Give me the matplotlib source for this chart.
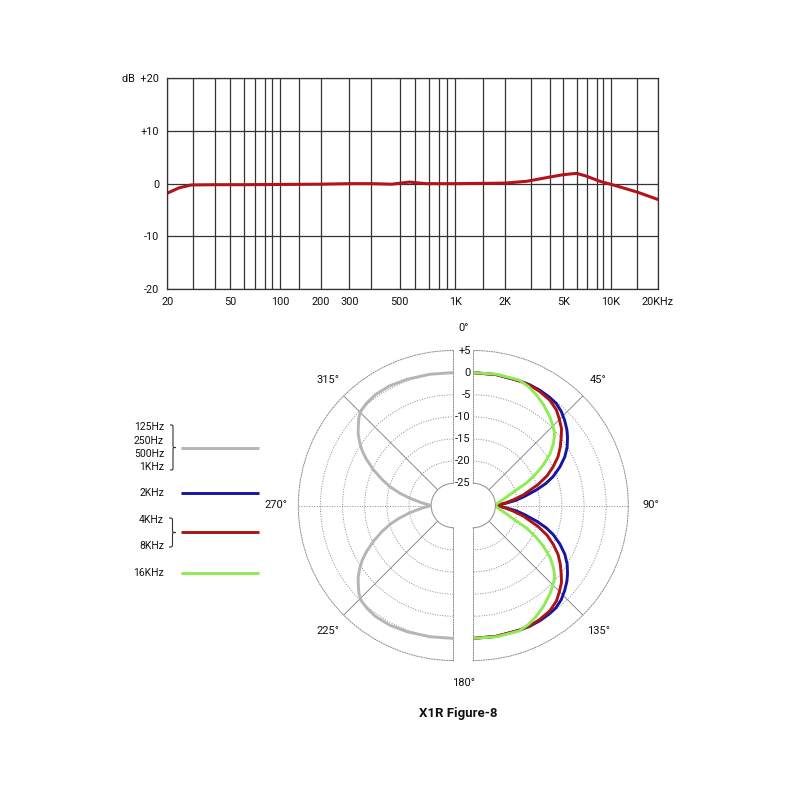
import numpy as np
import matplotlib
matplotlib.use("Agg")
import matplotlib.pyplot as plt
import matplotlib.transforms as mtransforms
from matplotlib.path import Path
from matplotlib.patches import PathPatch
from matplotlib.ticker import NullLocator

plt.rcParams['font.family'] = ['Roboto', 'DejaVu Sans']

# ------------------------------------------------------------------ data
# frequency response
FREQ_HZ = [20, 24, 29, 40, 60, 100, 200, 300, 400, 470, 560, 680, 1000,
           2000, 2800, 4000, 5000, 6000, 7000, 8500, 10500, 15000, 20000]
RESPONSE_DB = [-1.8, -0.8, -0.25, -0.2, -0.2, -0.15, -0.1, 0.0, 0.0, -0.1, 0.3,
               0.0, 0.0, 0.1, 0.45, 1.25, 1.7, 1.95, 1.4, 0.45, -0.3, -1.6, -3.0]

GRID_FREQS = [20, 30, 40, 50, 60, 70, 80, 90, 100, 150, 200, 300, 400, 500, 600,
              700, 800, 900, 1000, 1500, 2000, 3000, 4000, 5000, 6000, 7000,
              8000, 9000, 10000, 15000, 20000]
FREQ_TICKS = [20, 50, 100, 200, 300, 500, 1000, 2000, 5000, 10000, 20000]
FREQ_TICK_LABELS = ['20', '50', '100', '200', '300', '500', '1K', '2K', '5K',
                    '10K', '20KHz']
DB_TICKS = [-20, -10, 0, 10, 20]
DB_TICK_LABELS = ['-20', '-10', '0', '+10', 'dB  +20']

# calibration of the original's hand-drawn log axis (relative positions of grid lines)
AXIS_CAL = [167.3, 193.3, 214.7, 230.3, 244, 255, 264.7, 272.3, 280.3, 298.7,
            320.7, 349.3, 371.3, 399.7, 415.3, 428.7, 438.7, 446.7, 455.3,
            482.7, 505, 531.3, 549.7, 563.3, 576.7, 586.7, 596.7, 602.7, 611,
            637.3, 658]

# polar pattern (angles in degrees, clockwise from 0 deg at top; level in dB)
GRAY_ANG = [180, 190, 200, 208, 215, 220, 224, 227, 230, 233, 236, 239, 242, 246,
            250, 253.5, 257, 260.6, 265, 270,
            275, 279.4, 283, 286.5, 290, 294, 298, 301, 304, 307, 310, 313, 316,
            320, 325, 332, 340, 350, 360]
GRAY_DB = [0.0, 0.1, 0.35, 0.6, 0.6, 0.3, -0.1, -0.85, -2.0, -3.1, -4.5, -6.0,
           -7.8, -10.3, -12.9, -15.1, -17.6, -20.1, -22.8, -25.0,
           -22.8, -20.1, -17.6, -15.1, -12.9, -10.3, -7.8, -6.0, -4.5, -3.1,
           -2.0, -0.85, -0.1, 0.3, 0.6, 0.6, 0.35, 0.1, 0.0]

BLUE_ANG = [0, 10, 20, 25, 30, 35, 39, 43, 47, 51, 54, 58, 62, 66, 70, 73, 76,
            80, 83, 86, 90,
            94, 97, 100, 104, 107, 110, 114, 118, 122, 126, 129, 133, 137,
            141, 145, 150, 155, 160, 170, 180]
BLUE_DB = [0.0, 0.0, 0.0, 0.1, 0.05, -0.1, -0.3, -0.9, -1.8, -2.8, -3.7, -5.0,
           -6.6, -8.6, -10.8, -12.8, -15.2, -18.3, -20.3, -22.6, -25.0,
           -22.6, -20.3, -18.3, -15.2, -12.8, -10.8, -8.6, -6.6, -5.0, -3.7,
           -2.8, -1.8, -0.9, -0.3, -0.1, 0.05, 0.1, 0.0, 0.0, 0.0]

RED_ANG = [0, 10, 20, 25, 30, 36, 41, 45, 49, 52, 56, 60, 64, 68, 72, 75, 78,
           82, 86, 90,
           94, 98, 102, 105, 108, 112, 116, 120, 124, 128, 131, 135, 139, 144,
           150, 155, 160, 170, 180]
RED_DB = [0.0, 0.0, 0.0, 0.0, -0.2, -0.6, -1.4, -2.5, -3.6, -4.8, -6.3, -7.9,
          -9.9, -12.0, -14.6, -16.8, -18.4, -20.9, -23.0, -25.0,
          -23.0, -20.9, -18.4, -16.8, -14.6, -12.0, -9.9, -7.9, -6.3, -4.8,
          -3.6, -2.5, -1.4, -0.6, -0.2, 0.0, 0.0, 0.0, 0.0]

GREEN_ANG = [0, 10, 20, 25, 30, 35, 41, 45, 48.5, 52, 56, 60, 63, 67, 70, 75,
             80, 85, 90,
             95, 100, 105, 110, 113, 117, 120, 124, 128, 131.5, 135, 139, 145,
             150, 155, 160, 170, 180]
GREEN_DB = [0.0, 0.1, 0.15, -0.4, -1.3, -2.3, -3.6, -4.6, -5.45, -7.0, -9.1,
            -11.8, -14.0, -16.9, -19.6, -22.0, -23.5, -24.6, -25.0,
            -24.6, -23.5, -22.0, -19.6, -16.9, -14.0, -11.8, -9.1, -7.0, -5.45,
            -4.6, -3.6, -2.3, -1.3, -0.4, 0.15, 0.1, 0.0]

RING_LEVELS = [-25, -20, -15, -10, -5, 0, 5]
RING_LABELS = ['-25', '-20', '-15', '-10', '-5', '0', '+5']
GRID_ANGLES_RIGHT = [45, 90, 135]
GRID_ANGLES_LEFT = [225, 270, 315]
ANGLE_LABELS_RIGHT = {45: '45°', 90: '90°', 135: '135°'}
ANGLE_LABELS_LEFT = {225: '225°', 270: '270°', 315: '315°'}

LEGEND_GROUPS = [['125Hz', '250Hz', '500Hz', '1KHz'], ['2KHz'],
                 ['4KHz', '8KHz'], ['16KHz']]
TITLE = 'X1R Figure-8'

# ------------------------------------------------------------------ styles
C_RESP = '#b3141c'
C_GRAY = '#b5b5b5'
C_BLUE = '#1515a3'
C_RED = '#ad1515'
C_GREEN = '#8eea55'
C_GRID = '#333333'
C_PGRID = '#8a8a8a'
TXT = '#111111'
LW_CURVE = 2.1

W, H = 800, 800
fig = plt.figure(figsize=(8, 8), dpi=100)
fig.patch.set_facecolor('white')


def frac_rect(x0, y0, x1, y1):
    return [x0 / W, (H - y1) / H, (x1 - x0) / W, (y1 - y0) / H]


# ------------------------------------------------------------------ legend layer
ax_leg = fig.add_axes([0, 0, 1, 1])
ax_leg.set_xlim(0, W)
ax_leg.set_ylim(H, 0)
ax_leg.axis('off')


def brace(ax, x, y0, y1, w):
    ym = (y0 + y1) / 2.0
    r = w * 0.5
    xm = x + w * 0.5
    verts = [(x, y0), (xm, y0), (xm, y0), (xm, y0 + r),
             (xm, ym - r),
             (xm, ym), (xm, ym), (x + w, ym),
             (xm, ym), (xm, ym), (xm, ym + r),
             (xm, y1 - r),
             (xm, y1), (xm, y1), (x, y1)]
    codes = [Path.MOVETO, Path.CURVE4, Path.CURVE4, Path.CURVE4,
             Path.LINETO,
             Path.CURVE4, Path.CURVE4, Path.CURVE4,
             Path.CURVE4, Path.CURVE4, Path.CURVE4,
             Path.LINETO,
             Path.CURVE4, Path.CURVE4, Path.CURVE4]
    ax.add_patch(PathPatch(Path(verts, codes), fill=False, lw=0.8,
                           edgecolor='#333333', transform=ax.transData))


leg_colors = [C_GRAY, C_BLUE, C_RED, C_GREEN]
leg_line_y = [448, 493, 532, 573]
leg_label_y = [[427, 441, 454, 467], [493], [520, 546], [573]]
for labels, ys, ly, col in zip(LEGEND_GROUPS, leg_label_y, leg_line_y, leg_colors):
    for lab, yy in zip(labels, ys):
        ax_leg.text(164, yy, lab, ha='right', va='center', fontsize=7.5, color=TXT)
    ax_leg.plot([181, 259], [ly, ly], color=col, lw=LW_CURVE, solid_capstyle='butt')
brace(ax_leg, 170, 425, 470, 6)
brace(ax_leg, 169, 518, 547, 7)

ax_leg.text(458, 713.5, TITLE, ha='center', va='center', fontsize=9.5,
            fontweight='bold', color=TXT)

# ------------------------------------------------------------------ frequency response
log_grid = np.log10(GRID_FREQS)


def fwd(f):
    f = np.clip(np.asarray(f, dtype=float), 1e-6, None)
    return np.interp(np.log10(f), log_grid, AXIS_CAL)


def inv(p):
    return 10 ** np.interp(np.asarray(p, dtype=float), AXIS_CAL, log_grid)


ax = fig.add_axes(frac_rect(167.3, 78, 658, 289.3))
ax.set_xscale('function', functions=(fwd, inv))
ax.set_xlim(20, 20000)
ax.set_ylim(-20, 20)
ax.set_xticks(GRID_FREQS)
ax.set_xticklabels([FREQ_TICK_LABELS[FREQ_TICKS.index(f)] if f in FREQ_TICKS else ''
                    for f in GRID_FREQS])
ax.xaxis.set_minor_locator(NullLocator())
ax.set_yticks(DB_TICKS)
ax.set_yticklabels(DB_TICK_LABELS)
ax.yaxis.set_minor_locator(NullLocator())
ax.tick_params(axis='both', length=0, labelsize=7.8, colors=TXT)
ax.tick_params(axis='x', pad=5.5)
ax.tick_params(axis='y', pad=5.8)
ax.grid(True, color=C_GRID, lw=0.9)
for sp in ax.spines.values():
    sp.set_color(C_GRID)
    sp.set_linewidth(0.9)
ax.plot(FREQ_HZ, RESPONSE_DB, color=C_RESP, lw=2.2, solid_capstyle='round')

# ------------------------------------------------------------------ polar halves
R_PX = 155.0
SIDE = 2 * R_PX
CY = 505.5
X_RIGHT = 473.3
X_LEFT = 453.3
DOT = (0, (1.0, 1.6))


def half_polar(origin_x, origin_frac, tmin, tmax):
    x0 = origin_x - origin_frac * SIDE
    a = fig.add_axes(frac_rect(x0, CY - R_PX, x0 + SIDE, CY + R_PX),
                     projection='polar')
    a.set_theta_zero_location('N')
    a.set_theta_direction(-1)
    a.set_thetamin(tmin)
    a.set_thetamax(tmax)
    a.set_rlim(-25, 5)
    a.set_rorigin(-30)
    a.set_facecolor('none')
    a.set_xticks([])
    a.set_yticks(RING_LEVELS[1:-1])
    a.set_yticklabels([])
    a.tick_params(length=0)
    a.xaxis.grid(False)
    a.yaxis.grid(True, color=C_PGRID, lw=0.7, linestyle=DOT)
    a.spines['polar'].set_color(C_PGRID)
    a.spines['polar'].set_linewidth(0.7)
    a.spines['polar'].set_linestyle(DOT)
    for k in ('start', 'end'):
        a.spines[k].set_color(C_PGRID)
        a.spines[k].set_linewidth(0.7)
        a.spines[k].set_linestyle(DOT)
    a.spines['inner'].set_color('#9a9a9a')
    a.spines['inner'].set_linewidth(0.8)
    return a


ax_r = half_polar(X_RIGHT, 0.25, 0, 180)
ax_l = half_polar(X_LEFT, 0.75, 180, 360)

for a, angs, labels in ((ax_r, GRID_ANGLES_RIGHT, ANGLE_LABELS_RIGHT),
                        (ax_l, GRID_ANGLES_LEFT, ANGLE_LABELS_LEFT)):
    for ang in angs:
        th = np.radians(ang)
        if ang % 90 == 0:
            a.plot([th, th], [-25, 5], color=C_PGRID, lw=0.7, linestyle=DOT, zorder=1)
        else:
            a.plot([th, th], [-25, 5], color='#7a7a7a', lw=0.6, zorder=1)
        a.text(th, 10, labels[ang], ha='center', va='center', fontsize=8, color=TXT)

ax_l.plot(np.radians(GRAY_ANG), GRAY_DB, color=C_GRAY, lw=LW_CURVE, zorder=3)
ax_r.plot(np.radians(BLUE_ANG), BLUE_DB, color=C_BLUE, lw=LW_CURVE, zorder=3)
ax_r.plot(np.radians(RED_ANG), RED_DB, color=C_RED, lw=LW_CURVE, zorder=4)
ax_r.plot(np.radians(GREEN_ANG), GREEN_DB, color=C_GREEN, lw=LW_CURVE, zorder=5)

# ring labels in the gap between halves
ring_tr = ax_r.transData + mtransforms.ScaledTranslation(-2.5 / 100, 0, fig.dpi_scale_trans)
for lev, lab in zip(RING_LEVELS, RING_LABELS):
    ax_r.text(0, lev, lab, ha='right', va='center', fontsize=8, color=TXT,
              transform=ring_tr)

gap_tr = ax_r.transData + mtransforms.ScaledTranslation(-(X_RIGHT - X_LEFT) / 2 / 100, 0,
                                                        fig.dpi_scale_trans)
ax_r.text(0, 10, '0°', ha='center', va='center', fontsize=8, color=TXT, transform=gap_tr)
ax_r.text(np.pi, 10, '180°', ha='center', va='center', fontsize=8, color=TXT,
          transform=gap_tr)

fig.savefig('out.png', dpi=100, facecolor='white')
